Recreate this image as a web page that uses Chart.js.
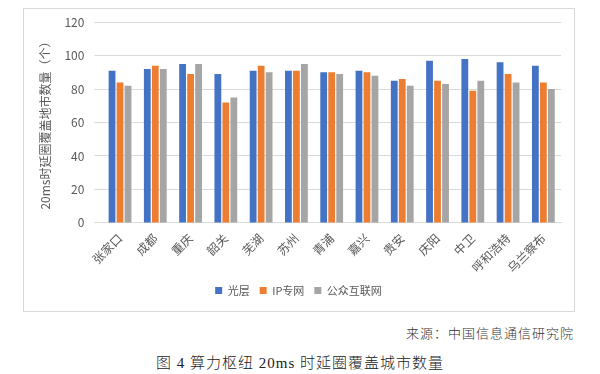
<!DOCTYPE html>
<html>
<head>
<meta charset="utf-8">
<script src="https://cdn.jsdelivr.net/npm/chart.js@4.4.1/dist/chart.umd.min.js"></script>
<style>
  body { margin: 0; background: #fff; width: 600px; height: 374px; position: relative; overflow: hidden; }
  #box { position: absolute; left: 23px; top: 8px; width: 552px; height: 304px; border: 1px solid #d9d9d9; box-sizing: border-box; }
  #wrap { position: absolute; left: 23px; top: 5px; width: 552px; height: 306px; }
  #source { position: absolute; right: 26px; top: 323px; font: 300 13px "Noto Sans CJK SC", sans-serif; color: #333; letter-spacing: 1px; }
  #caption { position: absolute; left: 0; width: 600px; top: 351px; text-align: center; font: 300 15px "Liberation Serif", "Noto Sans CJK SC", serif; color: #222; letter-spacing: 1px; }
</style>
</head>
<body>
<div id="box"></div>
<div id="wrap"><canvas id="chart"></canvas></div>
<div id="source">来源：中国信息通信研究院</div>
<div id="caption">图 4 算力枢纽 20ms 时延圈覆盖城市数量</div>
<script>
const cities = ["张家口", "成都", "重庆", "韶关", "芜湖", "苏州", "青浦", "嘉兴", "贵安", "庆阳", "中卫", "呼和浩特", "乌兰察布"];
const optical = [91, 92, 95, 89, 91, 91, 90, 91, 85, 97, 98, 96, 94];
const ipNet = [84, 94, 89, 72, 94, 91, 90, 90, 86, 85, 79, 89, 84];
const publicNet = [82, 92, 95, 75, 90, 95, 89, 88, 82, 83, 85, 84, 80];
const yTicks = [0, 20, 40, 60, 80, 100, 120];

const ctx = document.getElementById("chart").getContext("2d");
Chart.defaults.font.family = '"Noto Sans CJK SC", sans-serif';
Chart.defaults.color = "#595959";

new Chart(ctx, {
  type: "bar",
  data: {
    labels: cities,
    datasets: [
      { label: "光层", data: optical, backgroundColor: "#4472C4" },
      { label: "IP专网", data: ipNet, backgroundColor: "#ED7D31" },
      { label: "公众互联网", data: publicNet, backgroundColor: "#A5A5A5" },
    ],
  },
  options: {
    responsive: true,
    maintainAspectRatio: false,
    animation: false,
    datasets: { bar: { categoryPercentage: 0.68, barPercentage: 0.85 } },
    layout: { padding: { top: 0, right: 14, left: 13, bottom: 5 } },
    scales: {
      x: {
        grid: { display: false },
        border: { color: "#d9d9d9" },
        ticks: { minRotation: 45, maxRotation: 45, font: { size: 12 }, padding: 0 },
      },
      y: {
        min: 0,
        max: 120,
        afterBuildTicks: (axis) => { axis.ticks = yTicks.map((v) => ({ value: v })); },
        grid: { color: "#d9d9d9" },
        border: { display: false },
        ticks: { font: { size: 12 }, padding: 10 },
        title: { display: true, text: "20ms时延圈覆盖地市数量（个）", font: { size: 12 }, color: "#595959", padding: 2 },
      },
    },
    plugins: {
      legend: {
        position: "bottom",
        labels: { boxWidth: 7, boxHeight: 7, font: { size: 11 }, padding: 10 },
      },
      tooltip: { enabled: false },
    },
  },
});
</script>
</body>
</html>
